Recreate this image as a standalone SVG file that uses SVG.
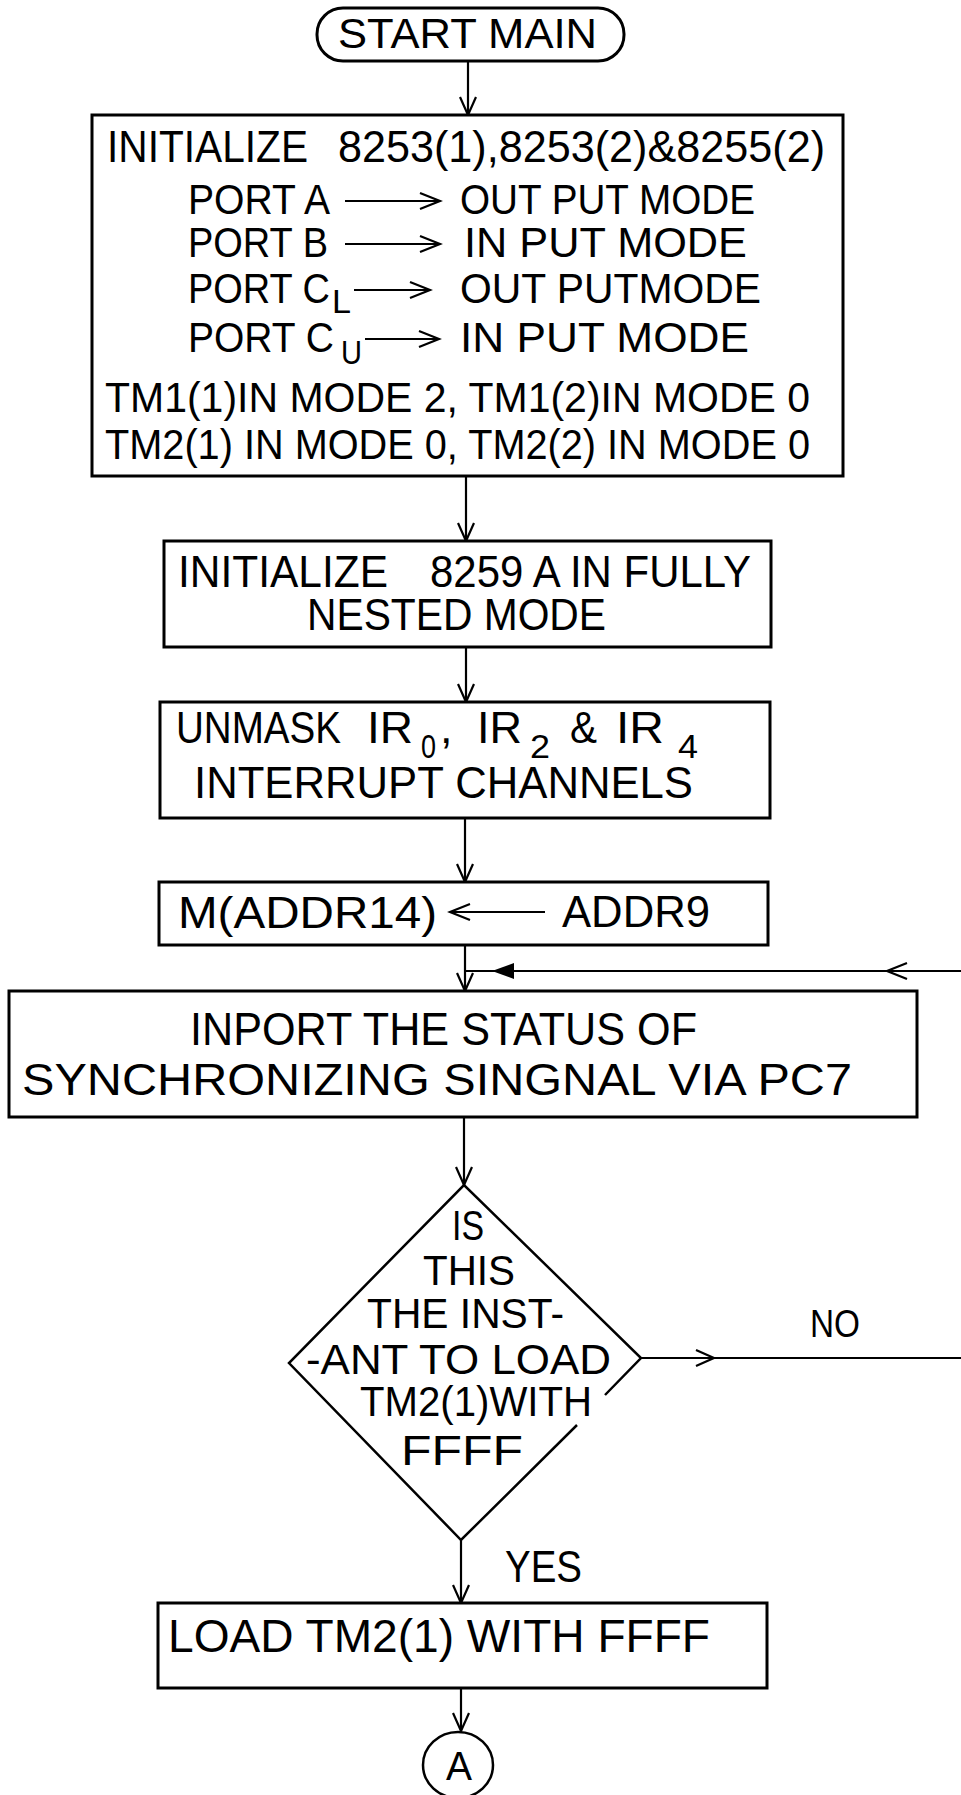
<svg xmlns="http://www.w3.org/2000/svg" width="961" height="1795" viewBox="0 0 961 1795">
<style>
  .bg { fill: #ffffff; }
  .box { fill: none; stroke: #000; stroke-width: 3; }
  .con { fill: none; stroke: #000; stroke-width: 2.2; }
  .head { fill: none; stroke: #000; stroke-width: 2.2; stroke-linejoin: miter; }
  .t { font-family: "Liberation Sans", Arial, sans-serif; font-size: 42px; fill: #000; }
  .sub { font-size: 33px; }
</style>
<defs>
  <marker id="open" viewBox="0 0 20 18" refX="19" refY="9" markerWidth="20" markerHeight="18" markerUnits="userSpaceOnUse" orient="auto">
    <path d="M1,1 L19,9 L1,17" fill="none" stroke="#000" stroke-width="2.2"/>
  </marker>
</defs>
<rect class="bg" x="0" y="0" width="961" height="1795"/>

<g id="connectors">
  <path class="con" d="M468,61 V115" marker-end="url(#open)"/>
  <path class="con" d="M466,476 V541" marker-end="url(#open)"/>
  <path class="con" d="M466,647 V702" marker-end="url(#open)"/>
  <path class="con" d="M465,818 V882" marker-end="url(#open)"/>
  <path class="con" d="M465,945 V991" marker-end="url(#open)"/>
  <path class="con" d="M961,971 H465"/>
  <path class="head" d="M907,963 L887,971 L907,979"/>
  <path d="M492,971 L514,963 L514,979 Z" fill="#000"/>
  <path class="con" d="M464,1117 V1185" marker-end="url(#open)"/>
  <path class="con" d="M641,1358 H961"/>
  <path class="head" d="M696,1350 L714,1358 L696,1366"/>
  <text class="t" x="810" y="1337" style="font-size:39px" textLength="50" lengthAdjust="spacingAndGlyphs">NO</text>
  <path class="con" d="M461,1540 V1603" marker-end="url(#open)"/>
  <text class="t" x="505" y="1582" style="font-size:44px" textLength="77" lengthAdjust="spacingAndGlyphs">YES</text>
  <path class="con" d="M461,1688 V1731" marker-end="url(#open)"/>
</g>

<g id="start">
  <rect class="box" x="317" y="8" width="307" height="53" rx="26" ry="26"/>
  <text class="t" x="338" y="48" style="font-size:42px" textLength="259" lengthAdjust="spacingAndGlyphs">START MAIN</text>
</g>

<g id="init1">
  <rect class="box" x="92" y="115" width="751" height="361"/>
  <text class="t" x="107" y="162" style="font-size:44px" textLength="201" lengthAdjust="spacingAndGlyphs">INITIALIZE</text>
  <text class="t" x="338" y="162" style="font-size:44px" textLength="487" lengthAdjust="spacingAndGlyphs">8253(1),8253(2)&amp;8255(2)</text>

  <text class="t" x="188" y="214" textLength="142" lengthAdjust="spacingAndGlyphs">PORT A</text>
  <path class="head" d="M345,201 H438 M420,193 L440,201 L420,209"/>
  <text class="t" x="460" y="214" textLength="295" lengthAdjust="spacingAndGlyphs">OUT PUT MODE</text>

  <text class="t" x="188" y="257" textLength="140" lengthAdjust="spacingAndGlyphs">PORT B</text>
  <path class="head" d="M345,244 H438 M420,236 L440,244 L420,252"/>
  <text class="t" x="464" y="257" textLength="283" lengthAdjust="spacingAndGlyphs">IN PUT MODE</text>

  <text class="t" x="188" y="303" textLength="142" lengthAdjust="spacingAndGlyphs">PORT C</text>
  <text class="t sub" x="332" y="313" textLength="19" lengthAdjust="spacingAndGlyphs">L</text>
  <path class="head" d="M354,290 H428 M410,282 L430,290 L410,298"/>
  <text class="t" x="460" y="303" textLength="301" lengthAdjust="spacingAndGlyphs">OUT PUTMODE</text>

  <text class="t" x="188" y="352" textLength="146" lengthAdjust="spacingAndGlyphs">PORT C</text>
  <text class="t sub" x="341" y="364" textLength="21" lengthAdjust="spacingAndGlyphs">U</text>
  <path class="head" d="M365,339 H437 M419,331 L439,339 L419,347"/>
  <text class="t" x="460" y="352" textLength="289" lengthAdjust="spacingAndGlyphs">IN PUT MODE</text>

  <text class="t" x="105" y="412" textLength="705" lengthAdjust="spacingAndGlyphs">TM1(1)IN MODE 2, TM1(2)IN MODE 0</text>
  <text class="t" x="105" y="459" textLength="705" lengthAdjust="spacingAndGlyphs">TM2(1) IN MODE 0, TM2(2) IN MODE 0</text>
</g>

<g id="init2">
  <rect class="box" x="164" y="541" width="607" height="106"/>
  <text class="t" x="178" y="587" style="font-size:44px" textLength="210" lengthAdjust="spacingAndGlyphs">INITIALIZE</text>
  <text class="t" x="430" y="587" style="font-size:44px" textLength="321" lengthAdjust="spacingAndGlyphs">8259 A IN FULLY</text>
  <text class="t" x="307" y="630" style="font-size:44px" textLength="299" lengthAdjust="spacingAndGlyphs">NESTED MODE</text>
</g>

<g id="unmask">
  <rect class="box" x="160" y="702" width="610" height="116"/>
  <text class="t" x="176" y="743" style="font-size:45px" textLength="165" lengthAdjust="spacingAndGlyphs">UNMASK</text>
  <text class="t" x="367" y="743" style="font-size:45px" textLength="46" lengthAdjust="spacingAndGlyphs">IR</text>
  <text class="t sub" x="421" y="758" textLength="15" lengthAdjust="spacingAndGlyphs">0</text>
  <text class="t" x="440" y="743" style="font-size:45px">,</text>
  <text class="t" x="477" y="743" style="font-size:45px" textLength="45" lengthAdjust="spacingAndGlyphs">IR</text>
  <text class="t sub" x="530" y="758" textLength="20" lengthAdjust="spacingAndGlyphs">2</text>
  <text class="t" x="570" y="743" style="font-size:45px" textLength="27" lengthAdjust="spacingAndGlyphs">&amp;</text>
  <text class="t" x="616" y="743" style="font-size:45px" textLength="48" lengthAdjust="spacingAndGlyphs">IR</text>
  <text class="t sub" x="678" y="758" textLength="20" lengthAdjust="spacingAndGlyphs">4</text>
  <text class="t" x="194" y="798" style="font-size:45px" textLength="499" lengthAdjust="spacingAndGlyphs">INTERRUPT CHANNELS</text>
</g>

<g id="addr">
  <rect class="box" x="159" y="882" width="609" height="63"/>
  <text class="t" x="178" y="928" style="font-size:44px" textLength="259" lengthAdjust="spacingAndGlyphs">M(ADDR14)</text>
  <path class="head" d="M452,912 H545 M470,904 L450,912 L470,920"/>
  <text class="t" x="562" y="927" style="font-size:44px" textLength="148" lengthAdjust="spacingAndGlyphs">ADDR9</text>
</g>

<g id="inport">
  <rect class="box" x="9" y="991" width="908" height="126"/>
  <text class="t" x="190" y="1045" style="font-size:46px" textLength="507" lengthAdjust="spacingAndGlyphs">INPORT THE STATUS OF</text>
  <text class="t" x="22" y="1095" style="font-size:44px" textLength="830" lengthAdjust="spacingAndGlyphs">SYNCHRONIZING SINGNAL VIA PC7</text>
</g>

<g id="decision">
  <path class="box" style="stroke-width:2.5" d="M605,1395 L641,1358 L464,1185 L289,1363 L461,1540 L577,1425"/>
  <text class="t" x="452" y="1240" textLength="32" lengthAdjust="spacingAndGlyphs">IS</text>
  <text class="t" x="423" y="1285" textLength="92" lengthAdjust="spacingAndGlyphs">THIS</text>
  <text class="t" x="367" y="1328" textLength="197" lengthAdjust="spacingAndGlyphs">THE INST-</text>
  <text class="t" x="306" y="1374" textLength="305" lengthAdjust="spacingAndGlyphs">-ANT TO LOAD</text>
  <text class="t" x="360" y="1416" textLength="232" lengthAdjust="spacingAndGlyphs">TM2(1)WITH</text>
  <text class="t" x="401" y="1465" textLength="122" lengthAdjust="spacingAndGlyphs">FFFF</text>
</g>

<g id="load">
  <rect class="box" x="158" y="1603" width="609" height="85"/>
  <text class="t" x="168" y="1652" style="font-size:46px" textLength="542" lengthAdjust="spacingAndGlyphs">LOAD TM2(1) WITH FFFF</text>
</g>

<g id="connectorA">
  <ellipse class="box" style="stroke-width:2.5" cx="458" cy="1765" rx="35" ry="33"/>
  <text class="t" x="446" y="1780" style="font-size:41px" textLength="26" lengthAdjust="spacingAndGlyphs">A</text>
</g>
</svg>
